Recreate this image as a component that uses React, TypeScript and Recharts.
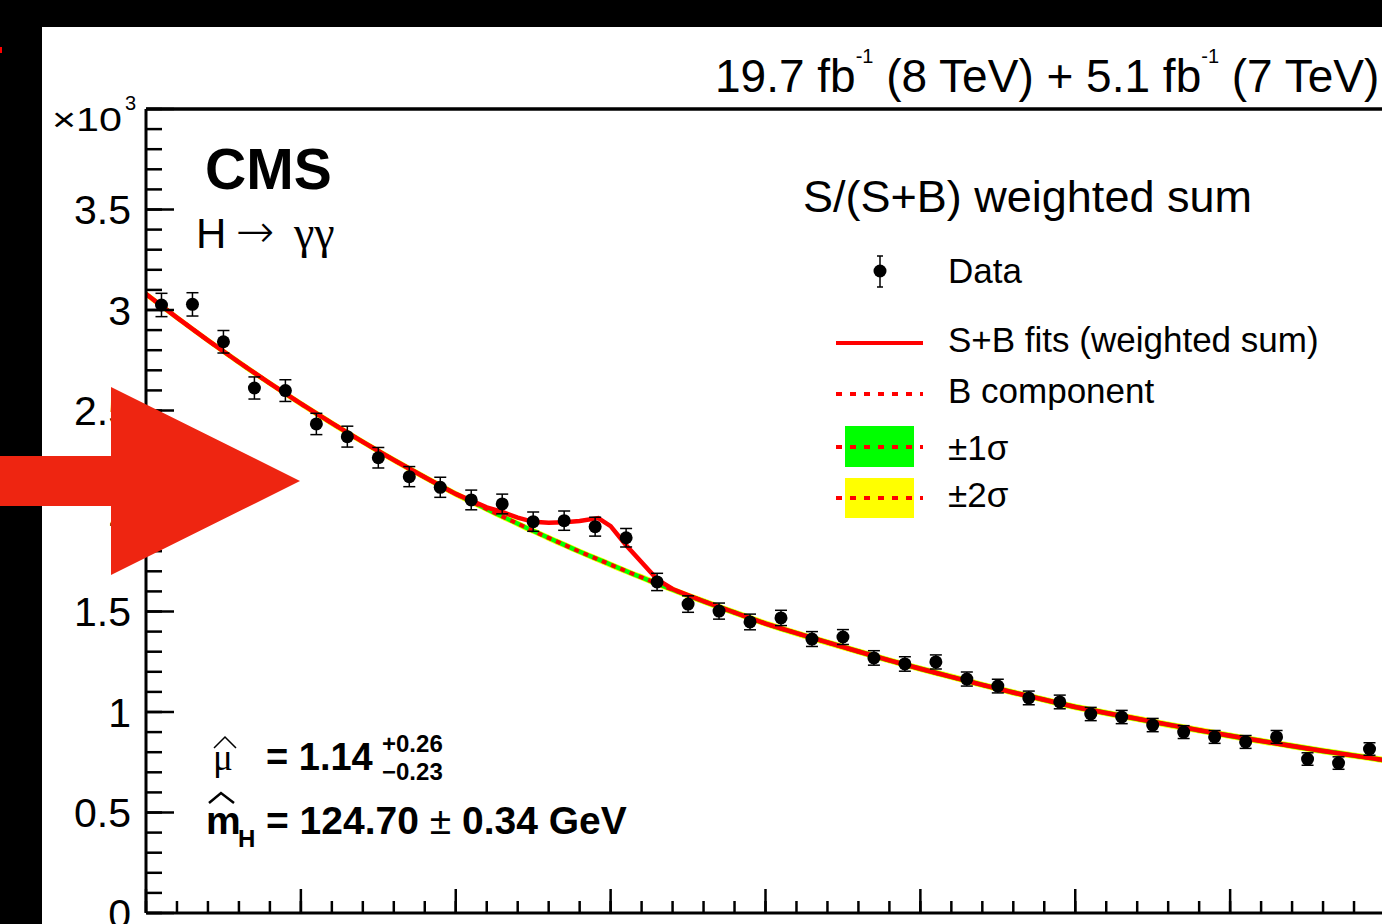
import React from "react";
import { Area, ComposedChart, ErrorBar, Line, Scatter, XAxis, YAxis } from "recharts";

// diphoton mass bins (GeV) and the S/(S+B) weighted events, in units of 10^3
const MASS_BINS = [
  110.5, 111.5, 112.5, 113.5, 114.5, 115.5, 116.5, 117.5, 118.5, 119.5,
  120.5, 121.5, 122.5, 123.5, 124.5, 125.5, 126.5, 127.5, 128.5, 129.5,
  130.5, 131.5, 132.5, 133.5, 134.5, 135.5, 136.5, 137.5, 138.5, 139.5,
  140.5, 141.5, 142.5, 143.5, 144.5, 145.5, 146.5, 147.5, 148.5, 149.5,
];
const DATA_VALUES = [
  3.025, 3.028, 2.842, 2.612, 2.599, 2.433, 2.37, 2.265, 2.171, 2.118,
  2.055, 2.035, 1.947, 1.952, 1.922, 1.867, 1.647, 1.537, 1.502, 1.448,
  1.468, 1.363, 1.373, 1.269, 1.239, 1.249, 1.164, 1.129, 1.07, 1.05,
  0.99, 0.975, 0.935, 0.9, 0.876, 0.851, 0.876, 0.766, 0.746, 0.816,
];
const DATA_ERRORS = [
  0.058, 0.058, 0.056, 0.055, 0.054, 0.053, 0.052, 0.051, 0.05, 0.05,
  0.049, 0.049, 0.048, 0.048, 0.047, 0.046, 0.043, 0.041, 0.04, 0.039,
  0.038, 0.037, 0.037, 0.036, 0.036, 0.035, 0.035, 0.034, 0.034, 0.034,
  0.033, 0.033, 0.033, 0.032, 0.032, 0.032, 0.032, 0.031, 0.031, 0.031,
];

// fitted curves sampled along the mass axis
const FIT_MASS = [
  110, 111, 112, 113, 114, 115, 116, 117, 118, 119, 120, 121,
  121.5, 122, 122.5, 123, 123.5, 124, 124.6, 125, 125.5, 126, 126.5, 127,
  128, 129, 130, 131, 132, 133, 134, 135, 136, 137, 138, 139, 140,
  141, 142, 143, 144, 145, 146, 147, 148, 149, 150,
];
const B_FIT = [
  3.08, 2.962, 2.849, 2.74, 2.635, 2.534, 2.437, 2.344, 2.254, 2.168, 2.085, 2.01,
  1.973, 1.937, 1.901, 1.866, 1.832, 1.798, 1.759, 1.733, 1.701, 1.67, 1.639, 1.609,
  1.551, 1.495, 1.44, 1.392, 1.346, 1.301, 1.257, 1.215, 1.175, 1.135, 1.097, 1.061, 1.025,
  0.995, 0.966, 0.937, 0.909, 0.882, 0.856, 0.831, 0.806, 0.783, 0.76,
];
const SB_FIT = [
  3.08, 2.962, 2.849, 2.74, 2.635, 2.534, 2.437, 2.344, 2.254, 2.168, 2.085, 2.018,
  1.995, 1.967, 1.946, 1.942, 1.944, 1.95, 1.965, 1.925, 1.83, 1.745, 1.66, 1.612,
  1.551, 1.495, 1.44, 1.392, 1.346, 1.301, 1.257, 1.215, 1.175, 1.135, 1.097, 1.061, 1.025,
  0.995, 0.966, 0.937, 0.909, 0.882, 0.856, 0.831, 0.806, 0.783, 0.76,
];
const BAND_1SIGMA = 0.012;
const BAND_2SIGMA = 0.016;

const X_MAJOR = [110, 115, 120, 125, 130, 135, 140, 145, 150];
const X_MINOR = Array.from({ length: 41 }, (_, i) => 110 + i);
const Y_LABELS = [0, 0.5, 1, 1.5, 2, 2.5, 3, 3.5];
const Y_MAJOR = [0, 0.5, 1, 1.5, 2, 2.5, 3, 3.5, 4];
const Y_MINOR = Array.from({ length: 41 }, (_, i) => Math.round(i * 10) / 100);

const FONT = "'Liberation Sans', Arial, Helvetica, sans-serif";
const SERIF = "'Liberation Serif', 'Times New Roman', serif";

const points = MASS_BINS.map((mass, i) => ({ mass, value: DATA_VALUES[i], err: DATA_ERRORS[i] }));
const fitRows = FIT_MASS.map((mass, i) => ({
  mass,
  b: B_FIT[i],
  sb: SB_FIT[i],
  band1: [B_FIT[i] - BAND_1SIGMA, B_FIT[i] + BAND_1SIGMA],
  band2: [B_FIT[i] - BAND_2SIGMA, B_FIT[i] + BAND_2SIGMA],
}));

const tickStroke = { stroke: "#000", strokeWidth: 2.5 };

// tick marks without labels
function NoLabel() {
  return <g />;
}

function DataDot(props: any) {
  return <circle cx={props.cx} cy={props.cy} r={6.5} fill="#000" />;
}

function Overlay() {
  return (
    <svg width={1382} height={924} style={{ position: "absolute", left: 0, top: 0 }} fontFamily={FONT}>
      <text x={52} y={131} fontSize={33} textLength={70} lengthAdjust="spacingAndGlyphs">×10</text>
      <text x={125} y={110} fontSize={20}>3</text>

      <text x={715} y={92} fontSize={46}>
        19.7 fb<tspan fontSize={20} dy={-29}>-1</tspan>
        <tspan dy={29}> (8 TeV) + 5.1 fb</tspan>
        <tspan fontSize={20} dy={-29}>-1</tspan>
        <tspan dy={29}> (7 TeV)</tspan>
      </text>

      <text x={205} y={189} fontSize={57} fontWeight="bold">CMS</text>
      <text x={196} y={248} fontSize={42}>H</text>
      <text x={236} y={247} fontSize={46} fontFamily="'DejaVu Sans', sans-serif" fontWeight={200}>→</text>
      <text x={294} y={248} fontSize={46} fontFamily={SERIF}>γγ</text>

      <text x={803} y={212} fontSize={45}>S/(S+B) weighted sum</text>

      {/* legend */}
      <line x1={880} x2={880} y1={256} y2={287} stroke="#000" strokeWidth={1.5} />
      <line x1={877} x2={883} y1={256} y2={256} stroke="#000" strokeWidth={1.5} />
      <line x1={877} x2={883} y1={287} y2={287} stroke="#000" strokeWidth={1.5} />
      <circle cx={880} cy={271} r={6.5} fill="#000" />
      <text x={948} y={283} fontSize={35}>Data</text>

      <line x1={836} x2={923} y1={343} y2={343} stroke="#ff0000" strokeWidth={4} />
      <text x={948} y={352} fontSize={35}>S+B fits (weighted sum)</text>

      <line x1={836} x2={923} y1={394} y2={394} stroke="#ff0000" strokeWidth={4} strokeDasharray="6 8" />
      <text x={948} y={403} fontSize={35}>B component</text>

      <rect x={845} y={426} width={69} height={41} fill="#00ff00" />
      <line x1={836} x2={923} y1={447} y2={447} stroke="#ff0000" strokeWidth={4} strokeDasharray="6 8" />
      <text x={948} y={460} fontSize={35}>±1σ</text>

      <rect x={845} y={478} width={69} height={40} fill="#ffff00" />
      <line x1={836} x2={923} y1={498} y2={498} stroke="#ff0000" strokeWidth={4} strokeDasharray="6 8" />
      <text x={948} y={507} fontSize={35}>±2σ</text>

      {/* fit results */}
      <polyline points="214,748 225,737 236,748" fill="none" stroke="#000" strokeWidth={1.5} />
      <text x={213} y={770} fontSize={37} fontFamily={SERIF}>μ</text>
      <text x={266} y={770} fontSize={38} fontWeight="bold">= 1.14</text>
      <text x={382} y={752} fontSize={24} fontWeight="bold">+0.26</text>
      <text x={382} y={780} fontSize={24} fontWeight="bold">−0.23</text>

      <polyline points="209,803 221,793 234,803" fill="none" stroke="#000" strokeWidth={2.5} />
      <text x={206} y={834} fontSize={39} fontWeight="bold">m</text>
      <text x={238} y={847} fontSize={24} fontWeight="bold">H</text>
      <text x={266} y={834} fontSize={39} fontWeight="bold">
        = 124.70 <tspan fontWeight="normal">±</tspan> 0.34 GeV
      </text>

      {/* annotation arrow */}
      <polygon points="0,456 111,456 111,387 300,481 111,575 111,506 0,506" fill="#ee2511" />
      <rect x={0} y={47} width={2} height={6} fill="#ff0000" />
    </svg>
  );
}

export default function App() {
  return (
    <div style={{ position: "absolute", left: 0, top: 0, width: 1382, height: 924, overflow: "hidden", background: "#000" }}>
      <div style={{ position: "absolute", left: 42, top: 27, width: 1340, height: 897, background: "#fff" }} />
      <div style={{ position: "absolute", left: 0, top: 0 }}>
        <ComposedChart width={1400} height={940} data={fitRows} margin={{ top: 109, right: 15, bottom: 27, left: 0 }}>
          <XAxis xAxisId="x" dataKey="mass" type="number" domain={[110, 150]} allowDataOverflow
            ticks={X_MAJOR} interval={0} height={1} mirror tick={NoLabel} tickSize={24}
            tickLine={tickStroke} axisLine={{ stroke: "#000", strokeWidth: 3 }} />
          <XAxis xAxisId="xminor" dataKey="mass" type="number" domain={[110, 150]} allowDataOverflow
            ticks={X_MINOR} interval={0} height={1} mirror tick={NoLabel} tickSize={11}
            tickLine={tickStroke} axisLine={false} />
          <XAxis xAxisId="top" orientation="top" dataKey="mass" type="number" domain={[110, 150]} allowDataOverflow
            height={1} mirror ticks={X_MAJOR} tick={false} tickLine={false} axisLine={{ stroke: "#000", strokeWidth: 3.5 }} />
          <YAxis yAxisId="y" dataKey="value" type="number" domain={[0, 4]} allowDataOverflow
            ticks={Y_MAJOR} interval={0} width={1} mirror tick={NoLabel} tickSize={28}
            tickLine={tickStroke} axisLine={{ stroke: "#000", strokeWidth: 3 }} />
          <YAxis yAxisId="yminor" type="number" domain={[0, 4]} allowDataOverflow
            ticks={Y_MINOR} interval={0} width={1} mirror tick={NoLabel} tickSize={15}
            tickLine={tickStroke} axisLine={false} />
          <YAxis yAxisId="ylabels" type="number" domain={[0, 4]} allowDataOverflow
            ticks={Y_LABELS} interval={0} width={146} tickSize={0} tickMargin={15}
            tickLine={false} axisLine={false} tickFormatter={(v: number) => String(v)}
            tick={{ fill: "#000", fontSize: 41, fontFamily: FONT }} />

          <Area xAxisId="x" yAxisId="y" dataKey="band2" type="monotone" stroke="none" fill="#ffff00" fillOpacity={1} isAnimationActive={false} />
          <Area xAxisId="x" yAxisId="y" dataKey="band1" type="monotone" stroke="none" fill="#00ff00" fillOpacity={1} isAnimationActive={false} />
          <Line xAxisId="x" yAxisId="y" dataKey="b" type="monotone" stroke="#ff0000" strokeWidth={4} strokeDasharray="5 5" dot={false} activeDot={false} isAnimationActive={false} />
          <Line xAxisId="x" yAxisId="y" dataKey="sb" type="linear" stroke="#ff0000" strokeWidth={4.5} dot={false} activeDot={false} isAnimationActive={false} />
          <Scatter xAxisId="x" yAxisId="y" data={points} dataKey="value" shape={DataDot} isAnimationActive={false}>
            <ErrorBar dataKey="err" direction="y" width={6} stroke="#000" strokeWidth={1.5} />
          </Scatter>
        </ComposedChart>
      </div>
      <Overlay />
    </div>
  );
}
